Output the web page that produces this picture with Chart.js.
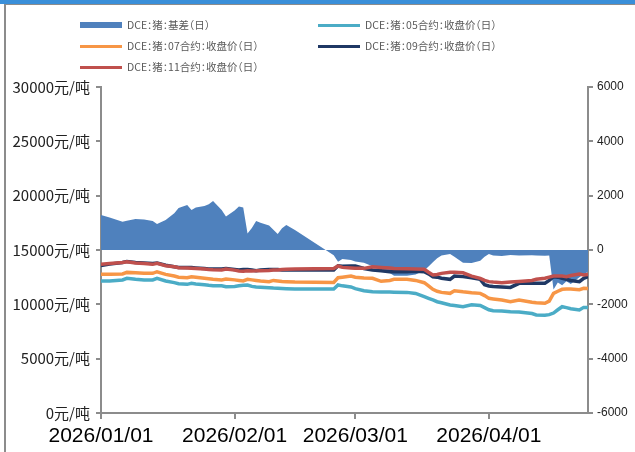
<!DOCTYPE html>
<html>
<head>
<meta charset="utf-8">
<script src="https://cdn.jsdelivr.net/npm/chart.js@4.4.1/dist/chart.umd.min.js"></script>
<style>
  html, body { margin: 0; padding: 0; background: #fff; }
  #wrap { position: relative; width: 635px; height: 452px; overflow: hidden; }
  #frame { position: absolute; left: 0; top: 0; width: 635px; height: 452px; box-sizing: border-box;
           border-top: 4px solid #3a8fd9; pointer-events: none; }
  #frame:after { content: ""; position: absolute; left: 4px; top: 0; right: 0; bottom: 0;
                 border-left: 2px solid #8c8c8c; border-top: 1px solid #8c8c8c; }
  canvas { position: absolute; left: 0; top: 0; }
  .lg { position: absolute; font: 10.5px "Noto Sans CJK SC", "Noto Sans", sans-serif; color: #595959;
        white-space: nowrap; font-feature-settings: "halt" 1; word-spacing: 0; }
  .sw { position: absolute; width: 42px; }
</style>
</head>
<body>
<div id="wrap">
  <canvas id="c" width="635" height="452"></canvas>
  <div id="legend"></div>
  <div id="frame"></div>
</div>
<script>
// trading dates (sampled)
const dates = [
  "2026-01-01","2026-01-03","2026-01-06","2026-01-07","2026-01-09","2026-01-11","2026-01-13","2026-01-14","2026-01-16","2026-01-18",
  "2026-01-19","2026-01-21","2026-01-22","2026-01-23","2026-01-25","2026-01-26","2026-01-27","2026-01-29","2026-01-30",
  "2026-02-01","2026-02-02","2026-02-03","2026-02-04","2026-02-05","2026-02-06","2026-02-07","2026-02-09","2026-02-10","2026-02-11",
  "2026-02-12","2026-02-13","2026-02-15","2026-02-24","2026-02-25","2026-02-26","2026-02-28",
  "2026-03-01","2026-03-03","2026-03-05","2026-03-07","2026-03-09","2026-03-10","2026-03-13","2026-03-15","2026-03-17","2026-03-18",
  "2026-03-19","2026-03-20","2026-03-21","2026-03-23","2026-03-24","2026-03-26","2026-03-28","2026-03-30","2026-03-31",
  "2026-04-01","2026-04-02","2026-04-04","2026-04-06","2026-04-08","2026-04-11","2026-04-12","2026-04-14","2026-04-15","2026-04-16",
  "2026-04-17","2026-04-18","2026-04-19","2026-04-20","2026-04-22","2026-04-23","2026-04-24"
];

// DCE pig basis (right axis)
const basis = [
  1290,1200,1040,1080,1140,1120,1070,960,1100,1350,1550,1660,1470,1560,1620,1680,1800,1470,1230,
  1450,1600,1560,610,810,1070,1000,900,750,590,800,920,735,-190,-430,-330,-370,
  -420,-470,-600,-700,-850,-950,-950,-900,-750,-610,-450,-300,-200,-150,-250,-470,-480,-400,-250,
  -150,-200,-220,-180,-200,-190,-200,-210,-200,-1450,-1200,-1300,-1150,-1250,-1000,-900,-800
];

// closing prices (left axis, 元/吨)
const c05 = [
  12150,12150,12240,12390,12300,12250,12240,12390,12150,12000,11900,11840,11930,11880,11800,11750,11720,11700,11620,
  11650,11700,11750,11780,11650,11600,11580,11530,11500,11480,11460,11440,11410,11410,11780,11700,11600,
  11450,11250,11150,11130,11130,11120,11100,11000,10700,10550,10400,10240,10150,9940,9900,9780,9950,9900,9700,
  9500,9410,9380,9320,9300,9150,9020,9000,9050,9200,9500,9780,9700,9600,9480,9720,9720
];
const c07 = [
  12760,12760,12800,12940,12900,12870,12850,13000,12760,12600,12500,12450,12540,12500,12400,12350,12300,12250,12330,
  12250,12200,12150,12300,12250,12200,12150,12090,12200,12150,12100,12080,12050,12020,12450,12500,12600,
  12490,12420,12390,12120,12200,12300,12300,12200,11990,11700,11380,11200,11100,11010,11250,11150,11070,11010,10800,
  10550,10500,10400,10240,10400,10200,10150,10100,10300,11010,11200,11380,11400,11400,11350,11470,11450
];
const c09 = [
  13560,13700,13850,13950,13850,13800,13750,13800,13600,13450,13400,13400,13380,13350,13300,13250,13250,13250,13300,
  13200,13150,13200,13200,13150,13100,13150,13200,13200,13200,13150,13150,13150,13150,13550,13500,13530,
  13530,13300,13160,13100,13000,13000,13000,13050,13000,12800,12540,12500,12400,12300,12600,12550,12450,12300,11800,
  11690,11650,11600,11560,11930,11950,11930,11950,12200,12540,12500,12400,12300,12200,12090,12400,12550
];
const c11 = [
  13680,13750,13850,13920,13800,13750,13680,13770,13550,13450,13370,13350,13330,13300,13250,13200,13180,13160,13250,
  13150,13070,13050,13100,13070,13080,13100,13120,13150,13160,13200,13220,13250,13300,13530,13400,13350,
  13310,13310,13450,13400,13350,13300,13280,13250,13220,12950,12700,12750,12850,12950,12950,12900,12600,12390,12200,
  12090,12050,11990,12050,12100,12200,12300,12400,12500,12600,12600,12600,12550,12650,12790,12700,12750
];

const xTickDates = ["2026-01-01","2026-02-01","2026-03-01","2026-04-01"];
const lastDay = "2026-04-24";

const day0 = Date.UTC(2026, 0, 1);
function dayOf(s) {
  const p = s.split("-").map(Number);
  return Math.round((Date.UTC(p[0], p[1] - 1, p[2]) - day0) / 86400000);
}
function pts(vals) {
  return vals.map((v, i) => ({ x: dayOf(dates[i]), y: v }));
}

const series = [
  { label: "DCE：猪：基差（日）", data: basis, color: "#4f81bd", axis: "y1", area: true },
  { label: "DCE：猪：05合约：收盘价（日）", data: c05, color: "#4bacc6", axis: "y" },
  { label: "DCE：猪：07合约：收盘价（日）", data: c07, color: "#f79646", axis: "y" },
  { label: "DCE：猪：09合约：收盘价（日）", data: c09, color: "#1f3864", axis: "y" },
  { label: "DCE：猪：11合约：收盘价（日）", data: c11, color: "#c0504d", axis: "y" }
];
const drawOrder = [10, 4, 3, 2, 1];

// legend (two columns)
const legendPos = [[80, 25], [318, 25], [80, 46], [318, 46], [80, 67]];
const lg = document.getElementById("legend");
series.forEach((s, i) => {
  const [x, y] = legendPos[i];
  const sw = document.createElement("div");
  sw.className = "sw";
  const h = s.area ? 6 : 3;
  sw.style.cssText = `left:${x}px;top:${y - h / 2}px;height:${h}px;background:${s.color};`;
  lg.appendChild(sw);
  const t = document.createElement("div");
  t.className = "lg";
  t.textContent = s.label;
  t.style.cssText = `left:${x + 47}px;top:${y - 8}px;`;
  lg.appendChild(t);
});

const axisGray = "#8c8c8c";
const datasets = series.map((s, i) => ({
  label: s.label,
  data: pts(s.data),
  yAxisID: s.axis,
  borderColor: s.color,
  backgroundColor: s.color,
  borderWidth: s.area ? 0 : 3.5,
  fill: s.area ? "origin" : false,
  pointRadius: 0,
  tension: 0,
  order: drawOrder[i]
}));

new Chart(document.getElementById("c"), {
  type: "line",
  data: { datasets },
  options: {
    responsive: false,
    animation: false,
    layout: { padding: { top: 87, left: 0, right: 0, bottom: 0 } },
    plugins: { legend: { display: false }, tooltip: { enabled: false } },
    scales: {
      x: {
        type: "linear",
        min: 0,
        max: dayOf(lastDay),
        afterBuildTicks: sc => { sc.ticks = xTickDates.map(d => ({ value: dayOf(d) })); },
        afterFit: sc => { sc.height = 39; },
        grid: { drawOnChartArea: false, drawTicks: true, tickLength: 6, color: axisGray, lineWidth: 2 },
        border: { color: axisGray, width: 2 },
        ticks: {
          autoSkip: false, maxRotation: 0, padding: 5, color: "#000",
          font: { family: "Liberation Sans", size: 21 },
          callback: v => {
            const d = new Date(day0 + v * 86400000);
            return "2026/" + String(d.getUTCMonth() + 1).padStart(2, "0") + "/" + String(d.getUTCDate()).padStart(2, "0");
          }
        }
      },
      y: {
        position: "left",
        min: 0, max: 30000,
        afterFit: sc => { sc.width = 101; },
        grid: { drawOnChartArea: false, drawTicks: true, tickLength: 5, color: axisGray, lineWidth: 2 },
        border: { color: axisGray, width: 2 },
        ticks: {
          stepSize: 5000, padding: 6, color: "#222",
          font: { family: "Noto Sans CJK SC", size: 15 },
          callback: v => v + "元/吨"
        }
      },
      y1: {
        position: "right",
        min: -6000, max: 6000,
        afterFit: sc => { sc.width = 47; },
        grid: { drawOnChartArea: false, drawTicks: true, tickLength: 5, color: axisGray, lineWidth: 2 },
        border: { color: axisGray, width: 2 },
        ticks: {
          stepSize: 2000, padding: 4, color: "#222",
          font: { family: "Liberation Sans", size: 12 },
          callback: v => String(v)
        }
      }
    }
  }
});
</script>
</body>
</html>
